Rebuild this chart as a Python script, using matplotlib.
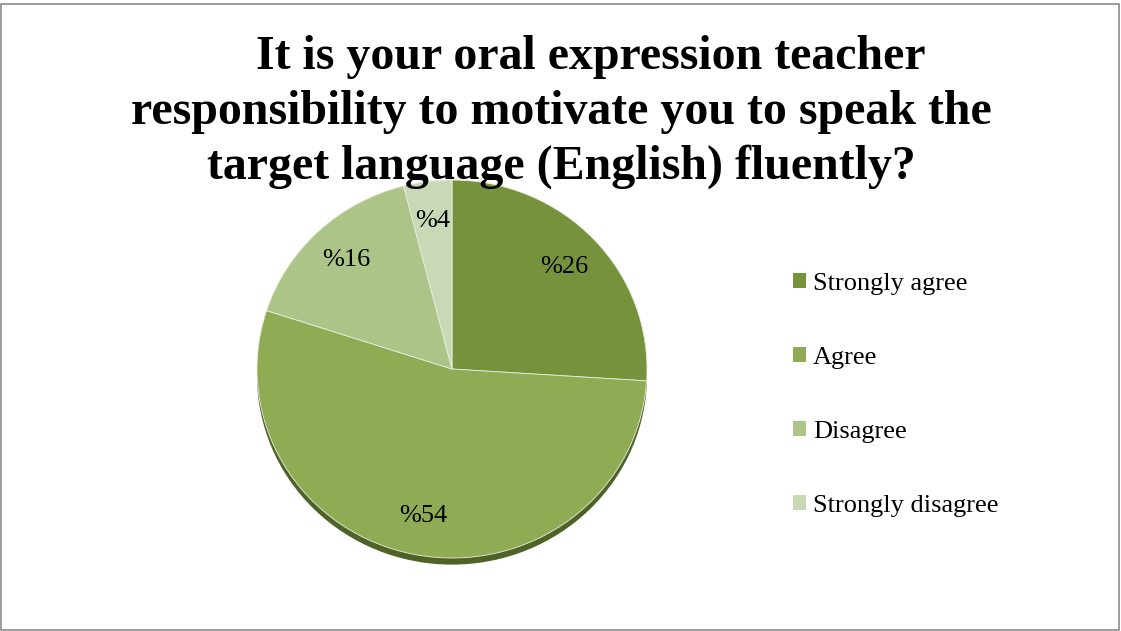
import matplotlib.pyplot as plt
from matplotlib.patches import Ellipse, Rectangle

# survey answers, clockwise from 12 o'clock
answers = ['Strongly agree', 'Agree', 'Disagree', 'Strongly disagree']
shares = [26, 54, 16, 4]
colors = ['#77923c', '#8fac55', '#adc489', '#c9d9b6']

title = ('     It is your oral expression teacher\n'
         'responsibility to motivate you to speak the\n'
         'target language (English) fluently?')

W, H = 1121, 631
fig = plt.figure(figsize=(W / 100, H / 100), dpi=100)
fig.patch.set_facecolor('white')

# outer chart border
fig.add_artist(Rectangle((1 / W, 1 / H), 1 - 3 / W, 1 - 5 / H, transform=fig.transFigure,
                         fill=False, edgecolor='#8c8c8c', linewidth=1.2))

# pie box in pixels: left, right, top, bottom
left, right, top, bottom = 257, 647, 180, 558
ax = fig.add_axes([left / W, 1 - bottom / H, (right - left) / W, (bottom - top) / H])

# dark rim under the pie
ax.add_patch(Ellipse((0.0, -0.035), 2.0, 2.0, facecolor='#4f6228', edgecolor='none',
                     zorder=0, clip_on=False))

wedges, texts, autotexts = ax.pie(
    shares, colors=colors, startangle=90, counterclock=False,
    autopct=lambda p: '%{:.0f}'.format(p), pctdistance=0.79,
    wedgeprops=dict(linewidth=0.6, edgecolor='#e8eedf'),
    textprops=dict(family='Liberation Serif', fontsize=19, color='black'))
for w in wedges:
    w.set_zorder(1)
    w.set_clip_on(False)
ax.set_aspect('auto')
ax.set_xlim(-1, 1)
ax.set_ylim(-1, 1)
ax.axis('off')

fig.text(561 / W, 1 - 112 / H, title, ha='center', va='center', family='Liberation Serif',
         fontsize=34.5, fontweight='bold', linespacing=1.3)

leg = fig.legend(wedges, answers, loc='center left', bbox_to_anchor=(793 / W, 1 - 395 / H),
                 frameon=False, prop=dict(family='Liberation Serif', size=19),
                 handlelength=0.5, handleheight=0.5, handletextpad=0.25, labelspacing=1.97,
                 borderaxespad=0, borderpad=0)
for h in leg.legend_handles:
    h.set_edgecolor('none')

fig.savefig('out.png', dpi=100)
